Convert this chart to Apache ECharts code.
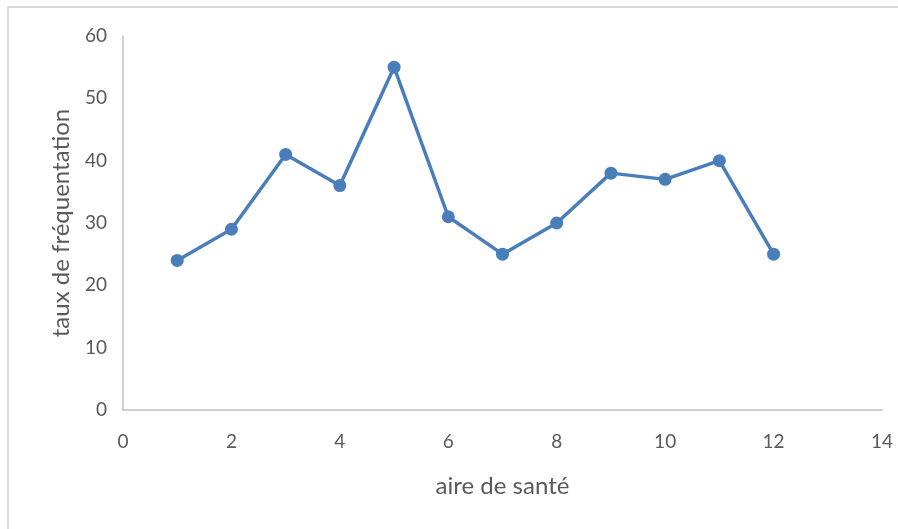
<!DOCTYPE html>
<html>
<head>
<meta charset="utf-8">
<script src="https://cdn.jsdelivr.net/npm/echarts@6/dist/echarts.min.js"></script>
<style>
  html, body { margin: 0; padding: 0; background: #fff; }
  #frame { position: absolute; left: 7px; top: 6px; width: 900px; height: 540px; border: 2px solid #d9d9d9; box-sizing: border-box; }
  #main { position: absolute; left: 0; top: 0; width: 898px; height: 529px; }
</style>
</head>
<body>
<div id="frame"></div>
<div id="main"></div>
<script>
  // aire de santé (x) et taux de fréquentation (y)
  var aires = [1, 2, 3, 4, 5, 6, 7, 8, 9, 10, 11, 12];
  var taux = [24, 29, 41, 36, 55, 31, 25, 30, 38, 37, 40, 25];

  var chart = echarts.init(document.getElementById('main'));
  var labelStyle = { color: '#595959', fontSize: 19, fontFamily: 'Lato' };
  var nameStyle = { color: '#595959', fontSize: 24, fontFamily: 'Lato' };

  var option = {
    animation: false,
    grid: { left: 123, right: 16, top: 36, bottom: 119 },
    xAxis: {
      type: 'value',
      min: 0, max: 14, interval: 2,
      name: 'aire de santé',
      nameLocation: 'middle',
      nameGap: 64,
      nameTextStyle: nameStyle,
      axisLine: { show: true, lineStyle: { color: '#bfbfbf', width: 1.5 } },
      axisTick: { show: false },
      splitLine: { show: false },
      axisLabel: Object.assign({ margin: 22 }, labelStyle)
    },
    yAxis: {
      type: 'value',
      min: 0, max: 60, interval: 10,
      name: 'taux de fréquentation',
      nameLocation: 'middle',
      nameGap: 50,
      nameRotate: 90,
      nameTextStyle: nameStyle,
      axisLine: { show: true, lineStyle: { color: '#bfbfbf', width: 1.5 } },
      axisTick: { show: false },
      splitLine: { show: false },
      axisLabel: Object.assign({ margin: 16 }, labelStyle)
    },
    series: [{
      type: 'line',
      data: aires.map(function (a, i) { return [a, taux[i]]; }),
      symbol: 'circle',
      symbolSize: 13,
      lineStyle: { color: '#4a7ebb', width: 3.5 },
      itemStyle: { color: '#4a7ebb' }
    }]
  };
  chart.setOption(option);
</script>
</body>
</html>
